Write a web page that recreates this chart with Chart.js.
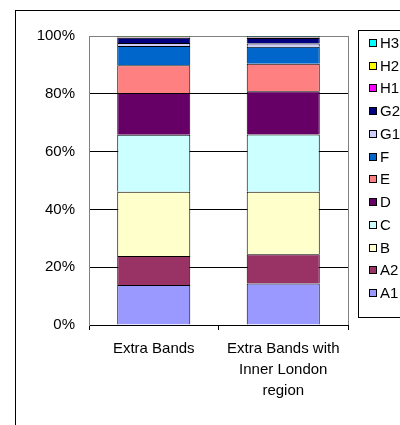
<!DOCTYPE html>
<html>
<head>
<meta charset="utf-8">
<script src="https://cdn.jsdelivr.net/npm/chart.js@4"></script>
<style>
    html, body { margin: 0; padding: 0; background: #fff; overflow: hidden; width: 400px; height: 425px; }
    #frame { position: absolute; left: 15px; top: 10px; width: 430px; height: 440px; border: 1px solid #000; }
    #chart { display: block; }
</style>
</head>
<body>
<div id="frame"><canvas id="chart" width="430" height="440"></canvas></div>
<script>
    const categories = ['Extra Bands', ['Extra Bands with', 'Inner London', 'region']];
    const bands = ['A1', 'A2', 'B', 'C', 'D', 'E', 'F', 'G1', 'G2', 'H1', 'H2', 'H3'];
    const bandColors = ['#9999FF', '#993366', '#FFFFCC', '#CCFFFF', '#660066', '#FF8080',
                        '#0066CC', '#CCCCFF', '#000080', '#FF00FF', '#FFFF00', '#00FFFF'];
    // share of properties (%) per band, one array per category
    const extraBands = [13.8, 10.1, 22.2, 19.7, 14.5, 9.6, 6.6, 1.1, 1.8, 0.2, 0.2, 0.2];
    const innerLondon = [14.4, 10.1, 21.6, 19.8, 15.0, 9.5, 5.9, 1.1, 1.9, 0.2, 0.2, 0.3];
    const yTicks = [0, 20, 40, 60, 80, 100];

    const FONT = { family: "'Liberation Sans', Arial, sans-serif", size: 15, lineHeight: 1.4 };

    // gray right edge of the plot area
    const plotBorder = {
        id: 'plotBorder',
        beforeDatasetsDraw(chart) {
            const { ctx, chartArea: a } = chart;
            ctx.save();
            ctx.strokeStyle = '#808080';
            ctx.lineWidth = 1;
            ctx.beginPath();
            ctx.moveTo(Math.round(a.right) + 0.5, a.top);
            ctx.lineTo(Math.round(a.right) + 0.5, a.bottom);
            ctx.stroke();
            ctx.restore();
        }
    };

    // boxed legend, top band first
    const boxLegend = {
        id: 'boxLegend',
        afterDraw(chart) {
            const ctx = chart.ctx;
            const x = 342, y = 19, h = 287, step = 22.73;
            ctx.save();
            ctx.strokeStyle = '#000';
            ctx.lineWidth = 1;
            ctx.strokeRect(x + 0.5, y + 0.5, 100, h);
            ctx.font = `${FONT.size}px ${FONT.family}`;
            ctx.textBaseline = 'middle';
            const sets = chart.data.datasets.slice().reverse();
            sets.forEach((ds, i) => {
                const cy = Math.round(y + 13 + i * step);
                ctx.fillStyle = ds.backgroundColor;
                ctx.fillRect(353, cy - 4, 8, 8);
                ctx.strokeRect(353.5, cy - 3.5, 7, 7);
                ctx.fillStyle = '#000';
                ctx.fillText(ds.label, 364, cy + 1);
            });
            ctx.restore();
        }
    };

    // each segment skips its bottom edge so neighbours share a single line
    const datasets = bands.map((b, i) => ({
        label: b,
        data: [extraBands[i], innerLondon[i]],
        backgroundColor: bandColors[i],
        borderColor: '#000',
        borderWidth: 1,
        borderSkipped: 'bottom',
        barPercentage: 0.564,
        categoryPercentage: 1
    }));

    new Chart(document.getElementById('chart'), {
        type: 'bar',
        data: { labels: categories, datasets },
        options: {
            responsive: false,
            animation: false,
            layout: { padding: { top: 25, right: 98, bottom: 0, left: 0 } },
            plugins: { legend: { display: false }, tooltip: { enabled: false } },
            scales: {
                x: {
                    stacked: true,
                    afterFit: s => { s.height = 126; },
                    grid: { offset: true, drawOnChartArea: false, drawTicks: true, tickLength: 5, color: '#000' },
                    border: { color: '#000' },
                    ticks: { color: '#000', font: FONT, padding: 8, maxRotation: 0, autoSkip: false }
                },
                y: {
                    stacked: true,
                    min: 0,
                    max: 100,
                    afterFit: s => { s.width = 73; },
                    afterBuildTicks: s => { s.ticks = yTicks.map(v => ({ value: v })); },
                    grid: {
                        drawTicks: false,
                        color: c => c.tick.value === 100 ? '#808080' : (c.tick.value === 0 ? 'rgba(0,0,0,0)' : '#000')
                    },
                    border: { color: '#808080' },
                    ticks: { color: '#000', font: FONT, padding: 14, callback: v => v + '%' }
                }
            }
        },
        plugins: [plotBorder, boxLegend]
    });
</script>
</body>
</html>
